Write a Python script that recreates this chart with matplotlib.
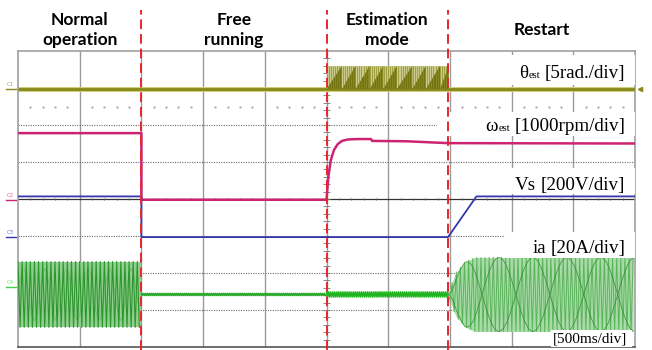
import matplotlib.pyplot as plt
import numpy as np
from matplotlib.patches import Rectangle, Polygon

# Scope screen is 10 x 8 divisions, time base 500 ms/div.
phase_names = ["Normal\noperation", "Free\nrunning", "Estimation\nmode", "Restart"]
phase_edges = [0.0, 2.0, 5.0, 6.97, 10.0]

# C1: estimated angle, 5 rad/div
theta_base = 6.97
theta_top = 7.6
theta_drops = [5.0, 5.25, 5.47, 5.70, 5.92, 6.14, 6.39, 6.61, 6.84, 6.98]

# C2: estimated speed, 1000 rpm/div
omega_t = [0.0, 2.0, 2.0, 5.0, 5.03, 5.07, 5.12, 5.18, 5.25, 5.35, 5.5, 5.72, 5.74, 6.3, 6.97, 10.0]
omega_v = [5.78, 5.78, 3.98, 3.98, 4.6, 5.05, 5.32, 5.48, 5.57, 5.61, 5.62, 5.62, 5.57, 5.56, 5.51, 5.50]

# C3: stator voltage, 200 V/div
vs_t = [0.0, 2.0, 2.0, 6.97, 7.43, 10.0]
vs_v = [4.07, 4.07, 2.97, 2.97, 4.07, 4.07]

# C4: phase current, 20 A/div
ia_center = 1.42
ia_normal_amp = 0.89
ia_free_amp = 0.025
ia_est_amp = 0.07
ia_restart_t = [6.97, 7.1, 7.25, 7.4, 10.0]
ia_restart_amp = [0.03, 0.6, 0.88, 1.0, 1.0]
ia_beat_period = 1.1

c_theta = "#87871a"
c_omega = "#cc2472"
c_vs = "#3636aa"
c_red = "#e8262c"

fig = plt.figure(figsize=(6.52, 3.5), dpi=100)
ax = fig.add_axes([18 / 652, 3 / 350, 617 / 652, 296 / 350])
ax.set_xlim(0, 10)
ax.set_ylim(0, 8)
ax.set_xticks([])
ax.set_yticks([])
for side in ["left", "right", "top"]:
    ax.spines[side].set_color("#a0a0a0")
    ax.spines[side].set_linewidth(1.2)
ax.spines["bottom"].set_color("#555555")
ax.spines["bottom"].set_linewidth(1.2)

# graticule
for gx in range(1, 10):
    ax.axvline(gx, color="#9a9a9a", lw=1.0, zorder=1)
for gy in [1, 2, 3, 5, 6, 7]:
    ax.axhline(gy, color="#6a6a6a", lw=0.8, ls=(0, (1, 1.2)), zorder=1)
ax.axhline(4, color="#333333", lw=0.9, zorder=1)
minor = np.arange(0.2, 10, 0.2)
minor = minor[np.abs(minor - np.round(minor)) > 0.05]
ax.vlines(minor, 3.96, 4.04, color="#555555", lw=0.6, zorder=1)
ax.plot(minor, np.full_like(minor, 6.5), ls="none", marker="o", ms=0.7,
        color="#b0b0b0", zorder=1)
ym = np.arange(0.2, 8, 0.2)
ax.hlines(ym, 4.94, 5.06, color="#777777", lw=0.6, zorder=1)

# C1 theta
ax.plot([0, 10], [theta_base, theta_base], color="#cfcf7a", lw=3.6, zorder=2, solid_capstyle="butt")
ax.plot([0, 10], [theta_base, theta_base], color=c_theta, lw=2.0, zorder=3, solid_capstyle="butt")
ax.fill_between([theta_drops[0], theta_drops[-1]], theta_base, theta_top, color="#caca8a", lw=0, zorder=2)
for a, b in zip(theta_drops[:-1], theta_drops[1:]):
    ax.add_patch(Polygon([(a, theta_base), (b, theta_top), (b, theta_base)],
                         closed=True, color="#737310", lw=0, zorder=3))
stripes = np.arange(theta_drops[0], theta_drops[-1], 1 / 30)
ax.vlines(stripes, theta_base, theta_top, color="#8f8f2a", lw=0.6, alpha=0.85, zorder=3)

# C2 omega
ax.plot(omega_t, omega_v, color=c_omega, lw=1.8, zorder=4)

# C3 Vs
ax.plot(vs_t, vs_v, color=c_vs, lw=1.3, zorder=4)

# C4 ia
step = 1 / 30
xn = np.arange(0.0, 2.0, step)
sign = np.where(np.arange(len(xn)) % 2 == 0, 1, -1)
ax.fill_between([0, 2], ia_center - ia_normal_amp, ia_center + ia_normal_amp,
                color="#8fd08f", lw=0, zorder=2)
ax.plot(xn, ia_center + sign * ia_normal_amp, color="#2f962f", lw=0.8, zorder=3)
ax.plot(xn, ia_center + ia_normal_amp * 0.8 * np.sin(2 * np.pi * xn / 0.35),
        color="#2b8a2b", lw=0.5, alpha=0.35, zorder=3)

xf = np.arange(2.0, 5.0, 1 / 60)
sf = np.where(np.arange(len(xf)) % 2 == 0, 1, -1)
ax.plot(xf, ia_center + sf * ia_free_amp, color="#2aa82a", lw=1.3, zorder=3)

xe = np.arange(5.0, 6.97, 1 / 60)
se = np.where(np.arange(len(xe)) % 2 == 0, 1, -1)
ax.plot(xe, ia_center + se * ia_est_amp, color="#22b522", lw=1.1, zorder=3)

xr = np.arange(6.97, 10.0, step)
ar = np.interp(xr, ia_restart_t, ia_restart_amp)
sr = np.where(np.arange(len(xr)) % 2 == 0, 1, -1)
ax.fill_between(xr, ia_center - ar, ia_center + ar, color="#a9dba9", lw=0, zorder=2)
ax.plot(xr, ia_center + sr * ar, color="#5cb45c", lw=0.7, zorder=3)
beat = ar * np.sin(2 * np.pi * (xr - 6.97) / ia_beat_period)
ax.plot(xr, ia_center + beat, color="#2b8a2b", lw=0.6, alpha=0.8, zorder=3)
ax.plot(xr, ia_center - beat, color="#2b8a2b", lw=0.6, alpha=0.8, zorder=3)

# channel markers on the left edge
for name, lvl, col in [("C1", 6.97, c_theta), ("C2", 3.98, c_omega),
                       ("C3", 2.97, c_vs), ("C4", 1.62, "#44cc44")]:
    ax.plot([-0.2, -0.03], [lvl, lvl], color=col, lw=1.0, clip_on=False)
    ax.text(-0.13, lvl + 0.06, name, color=col, fontsize=4, ha="center", va="bottom",
            alpha=0.7, clip_on=False)
ax.plot([10.08], [6.97], marker="<", ms=3, color=c_theta, clip_on=False)

# white boxes behind the scale labels
for x0, y0, x1, y1 in [(7.89, 7.08, 10.0, 7.89), (6.79, 5.70, 10.0, 6.35),
                       (7.89, 4.14, 10.0, 4.84), (7.89, 2.41, 10.0, 3.11),
                       (8.64, 0.0, 9.95, 0.46)]:
    ax.add_patch(Rectangle((x0, y0), x1 - x0, y1 - y0, facecolor="white",
                           edgecolor="none", zorder=5))

serif = ["Liberation Serif", "DejaVu Serif"]
fig.canvas.draw()
renderer = fig.canvas.get_renderer()


def left_edge(t, gap_px=0.0):
    x0 = t.get_window_extent(renderer).x0 - gap_px
    return ax.transData.inverted().transform((x0, 0))[0]


def scale_label(x, y, sym, sub, rest, size=13.7):
    t = ax.text(x, y, rest, fontsize=size, family=serif, ha="right", va="baseline", zorder=6)
    x_left = left_edge(t, 4.5)
    if sub:
        s = ax.text(x_left, y, sub, fontsize=size * 0.56, family=serif, ha="right",
                    va="baseline", zorder=6)
        x_left = left_edge(s, 0.3)
    ax.text(x_left, y, sym, fontsize=size, family=serif, ha="right", va="baseline", zorder=6)


scale_label(9.84, 7.27, "θ", "est", "[5rad./div]")
scale_label(9.84, 5.84, "ω", "est", "[1000rpm/div]")
scale_label(9.84, 4.24, "Vs", "", "[200V/div]")
scale_label(9.84, 2.54, "ia", "", "[20A/div]")
ax.text(9.87, 0.135, "[500ms/div]", fontsize=11, family=serif, ha="right", va="baseline", zorder=6)

# phase boundaries
for xb in phase_edges[1:-1]:
    ax.axvline(xb, ymin=-0.01, ymax=1.139, color=c_red, lw=1.4, dashes=(5, 2.5),
               clip_on=False, zorder=7)

# phase titles
for name, a, b in zip(phase_names, phase_edges[:-1], phase_edges[1:]):
    xc = ax.transData.transform(((a + b) / 2, 0))[0] / fig.bbox.width
    fig.text(xc, 1 - 30 / 350, name, fontsize=12.5, family=["Lato", "DejaVu Sans"],
             weight="bold", ha="center", va="center", multialignment="center", linespacing=1.3)

fig.savefig("out.png", dpi=100)
